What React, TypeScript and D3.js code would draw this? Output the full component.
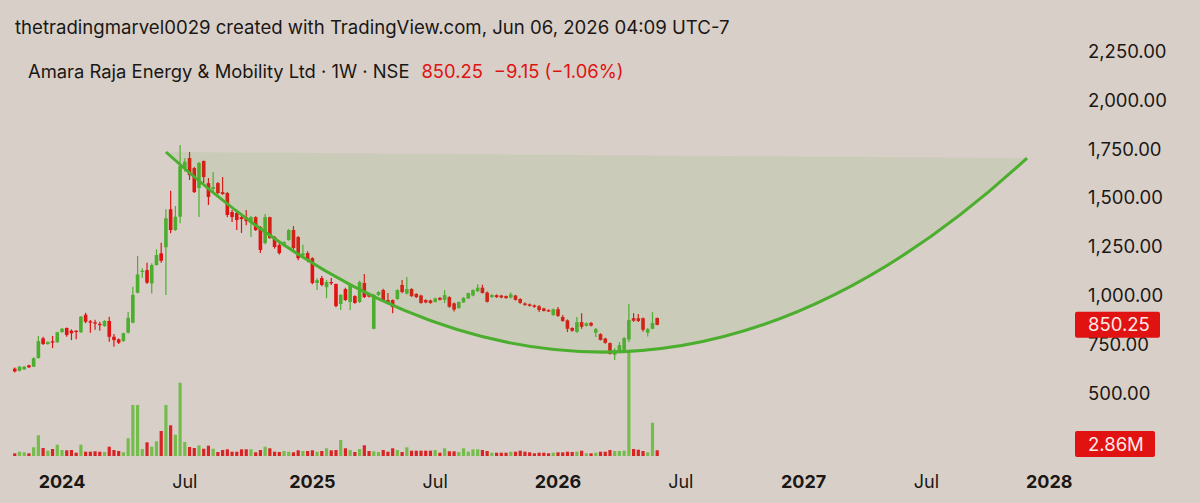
import { useEffect, useRef } from 'react';
import * as d3 from 'd3';

const WIDTH = 1200;
const HEIGHT = 503;

// Weekly candles, first bar starts this Monday
const firstWeek = '2023-10-23';

const opens = [
  626, 615, 622, 643, 636, 680, 781, 752, 766, 761, 813, 834, 820, 820, 812, 902, 868, 863, 855, 844,
  870, 789, 776, 767, 810, 861, 1014, 1123, 1130, 1062, 1156, 1216, 1247, 1441, 1335, 1403, 1651, 1703, 1652, 1550,
  1688, 1575, 1545, 1575, 1529, 1524, 1427, 1422, 1401, 1401, 1371, 1401, 1350, 1268, 1401, 1299, 1258, 1258, 1284, 1335,
  1299, 1205, 1217, 1191, 1064, 1089, 1043, 1069, 1059, 957, 1033, 967, 997, 967, 1064, 1003, 830, 1003, 1028, 977,
  977, 982, 1054, 1010, 1033, 1008, 1000, 977, 975, 967, 988, 978, 992, 960, 936, 965, 985, 1000, 1022, 1040,
  1015, 992, 1002, 1000, 997, 990, 1000, 982, 960, 955, 950, 945, 934, 925, 900, 930, 890, 873, 834, 814,
  864, 845, 860, 810, 803, 780, 757, 697, 718, 722, 775, 884, 884, 884, 810, 830, 885,
];
const highs = [
  632, 640, 640, 646, 684, 793, 789, 766, 793, 815, 834, 837, 827, 822, 895, 912, 875, 876, 866, 874,
  892, 803, 780, 810, 916, 1045, 1202, 1139, 1168, 1165, 1236, 1270, 1441, 1536, 1458, 1770, 1702, 1734, 1657, 1683,
  1690, 1601, 1632, 1580, 1606, 1530, 1437, 1430, 1410, 1437, 1407, 1405, 1355, 1417, 1403, 1304, 1275, 1278, 1340, 1355,
  1304, 1260, 1227, 1196, 1089, 1100, 1080, 1090, 1062, 1008, 1040, 1058, 1002, 1075, 1110, 1008, 1008, 1022, 1035, 1013,
  980, 1032, 1079, 1095, 1038, 1012, 1004, 981, 979, 990, 992, 1028, 996, 964, 970, 992, 1016, 1032, 1058, 1055,
  1020, 1006, 1006, 1004, 1000, 1015, 1004, 986, 964, 959, 954, 951, 938, 930, 934, 941, 900, 878, 838, 890,
  910, 862, 864, 834, 807, 784, 760, 730, 762, 788, 957, 910, 905, 888, 834, 915, 887,
];
const lows = [
  606, 612, 620, 630, 634, 678, 747, 748, 731, 758, 810, 789, 772, 776, 810, 858, 810, 825, 820, 840,
  764, 738, 752, 763, 806, 858, 1011, 1091, 1059, 1011, 1153, 1168, 1003, 1318, 1330, 1369, 1633, 1591, 1524, 1401,
  1575, 1463, 1524, 1518, 1515, 1400, 1376, 1335, 1320, 1360, 1299, 1330, 1217, 1262, 1290, 1240, 1210, 1250, 1280, 1235,
  1180, 1195, 1170, 1058, 1028, 1048, 987, 1054, 940, 926, 972, 926, 958, 962, 988, 990, 828, 998, 970, 958,
  910, 978, 1012, 1005, 993, 988, 958, 960, 958, 964, 974, 962, 938, 918, 932, 962, 982, 996, 1018, 1010,
  964, 988, 988, 986, 984, 985, 974, 958, 948, 944, 938, 916, 918, 916, 896, 890, 866, 813, 815, 808,
  830, 842, 842, 788, 770, 754, 698, 670, 711, 720, 762, 865, 865, 815, 790, 828, 848,
];
const closes = [
  612, 636, 636, 633, 679, 767, 752, 762, 762, 812, 830, 798, 807, 816, 892, 866, 864, 859, 851, 870,
  789, 772, 759, 807, 886, 1003, 1108, 1127, 1066, 1156, 1207, 1178, 1395, 1335, 1403, 1662, 1684, 1616, 1529, 1678,
  1606, 1504, 1555, 1524, 1519, 1412, 1401, 1386, 1391, 1380, 1401, 1335, 1233, 1401, 1294, 1248, 1217, 1273, 1335, 1243,
  1191, 1215, 1181, 1064, 1079, 1054, 1069, 1064, 946, 1003, 977, 1054, 962, 1069, 992, 995, 1003, 1018, 977, 962,
  941, 1028, 1018, 1033, 997, 992, 962, 965, 962, 985, 978, 1002, 943, 928, 967, 988, 1012, 1028, 1040, 1013,
  968, 1003, 992, 990, 987, 1006, 978, 962, 952, 947, 942, 926, 921, 920, 930, 896, 870, 830, 820, 864,
  840, 858, 846, 828, 773, 758, 702, 720, 746, 782, 875, 871, 870, 825, 828, 859.4, 850.25,
];
// Volume in millions of shares
const volumes = [
  1.35, 2.15, 1.85, 1.35, 4.35, 10.35, 4, 2.65, 3.5, 5.65, 3, 2.85, 3, 1.65, 5.65, 2.15, 2.15, 2.35, 2.15, 2,
  4.65, 3, 2.5, 1.85, 8.85, 25.5, 25.5, 3.5, 6.85, 4.65, 7.35, 12.5, 25.5, 15.35, 10.65, 36.65, 7, 4.5, 4, 5.35,
  3.65, 5.15, 3.65, 2, 3, 3.35, 2.15, 2.15, 3.35, 3.35, 3.35, 1.85, 3, 4.65, 3.85, 2.15, 2, 2.5, 2.15, 1.85,
  2.85, 2.5, 2.5, 2.85, 2.15, 2.5, 3.85, 2.85, 3, 8, 3.85, 3, 2, 3.5, 5.35, 2.5, 2.35, 2, 3, 2.15,
  3.85, 3, 2, 4.35, 2.65, 2.65, 2.65, 2.65, 2.65, 3, 1.65, 3.85, 2.35, 2.35, 2, 3.85, 2.15, 3.35, 3.35, 3,
  2.5, 1.65, 1.65, 1.65, 1.65, 2.15, 2.15, 2.65, 2.15, 1.85, 1.35, 1.65, 1.65, 1.35, 1.65, 1.85, 1.85, 2.15, 2, 2.15,
  2.65, 1.35, 1.35, 1.65, 2.15, 2.15, 3, 2.5, 2.5, 2.65, 52, 3.5, 3.15, 2.5, 1.85, 16.65, 2.86,
];

const priceTicks = [500, 750, 1000, 1250, 1500, 1750, 2000, 2250];
const timeTicks = ['2024-01-01', '2024-07-01', '2025-01-06', '2025-07-07', '2026-01-05', '2026-07-06', '2027-01-04', '2027-07-05', '2028-01-03'];
const timeLabels = ['2024', 'Jul', '2025', 'Jul', '2026', 'Jul', '2027', 'Jul', '2028'];

// Curve drawing: start, control, end (quadratic)
const curveDates = ['2024-06-03', '2026-03-13', '2027-12-01'];
const curvePrices = [1734, -297, 1703];

const headerText = 'thetradingmarvel0029 created with TradingView.com, Jun 06, 2026 04:09 UTC-7';
const symbolText = 'Amara Raja Energy & Mobility Ltd · 1W · NSE';
const lastPrice = 850.25;
const priceChange = -9.15;
const priceChangePct = -1.06;

const BG = '#d8d0c8';
const UP = '#4cae2e';
const DOWN = '#e01212';
const VOL_UP = '#74bd4c';
const VOL_DOWN = '#d82424';
const TEXT = '#1b1714';
const FONT = 'Inter, "Noto Sans", sans-serif';

const App = () => {
  const svgRef = useRef<SVGSVGElement>(null);

  useEffect(() => {
    if (!svgRef.current) return;
    const svg = d3.select(svgRef.current);
    svg.selectAll('*').remove();

    const start = new Date(firstWeek);
    const bars = opens.map((o, i) => ({
      date: d3.utcDay.offset(start, i * 7),
      open: o,
      high: highs[i],
      low: lows[i],
      close: closes[i],
      volume: volumes[i],
    }));

    const x = d3.scaleUtc()
      .domain([new Date('2024-01-01'), new Date('2026-06-01')])
      .range([62, 657.2]);
    const y = d3.scaleLinear().domain([500, 2250]).range([393.3, 51.1]);
    const yVol = d3.scaleLinear().domain([0, 60]).range([456, 336]);

    svg.append('rect').attr('width', WIDTH).attr('height', HEIGHT).attr('fill', BG);

    // Header
    svg.append('text')
      .attr('x', 15).attr('y', 33.5)
      .attr('font-family', FONT).attr('font-size', 18.6)
      .attr('fill', TEXT)
      .text(headerText);

    const legend = svg.append('text')
      .attr('x', 28).attr('y', 77.5)
      .attr('font-family', FONT).attr('font-size', 18.4)
      .attr('fill', TEXT);
    legend.append('tspan').text(symbolText);
    legend.append('tspan').attr('dx', 12).attr('fill', DOWN).text(lastPrice.toFixed(2));
    legend.append('tspan').attr('dx', 11).attr('fill', DOWN)
      .text(`${priceChange < 0 ? '\u2212' : '+'}${Math.abs(priceChange).toFixed(2)} (${priceChangePct < 0 ? '\u2212' : '+'}${Math.abs(priceChangePct).toFixed(2)}%)`);

    // Volume bars
    svg.append('g')
      .selectAll('rect')
      .data(bars)
      .join('rect')
      .attr('x', d => x(d.date) - 1.6)
      .attr('width', 3.2)
      .attr('y', d => yVol(d.volume))
      .attr('height', d => yVol(0) - yVol(d.volume))
      .attr('fill', d => (d.close >= d.open ? VOL_UP : VOL_DOWN));

    // Candles
    const candles = svg.append('g');
    candles.selectAll('line')
      .data(bars)
      .join('line')
      .attr('x1', d => x(d.date)).attr('x2', d => x(d.date))
      .attr('y1', d => y(d.high)).attr('y2', d => y(d.low))
      .attr('stroke', d => (d.close >= d.open ? UP : DOWN))
      .attr('stroke-width', 1.2);
    candles.selectAll('rect')
      .data(bars)
      .join('rect')
      .attr('x', d => x(d.date) - 1.8)
      .attr('width', 3.6)
      .attr('y', d => y(Math.max(d.open, d.close)))
      .attr('height', d => Math.max(1.3, Math.abs(y(d.open) - y(d.close))))
      .attr('fill', d => (d.close >= d.open ? UP : DOWN));

    // Cup curve with filled area against its chord
    const pts = curveDates.map((d, i) => [x(new Date(d)), y(curvePrices[i])]);
    const curve = d3.path();
    curve.moveTo(pts[0][0], pts[0][1]);
    curve.quadraticCurveTo(pts[1][0], pts[1][1], pts[2][0], pts[2][1]);
    svg.append('path')
      .attr('d', curve.toString() + 'Z')
      .attr('fill', 'rgb(110,170,75)')
      .attr('fill-opacity', 0.12);
    svg.append('path')
      .attr('d', curve.toString())
      .attr('fill', 'none')
      .attr('stroke', UP)
      .attr('stroke-width', 3)
      .attr('stroke-linecap', 'butt');

    // Price axis (labels only)
    svg.append('g')
      .selectAll('text')
      .data(priceTicks)
      .join('text')
      .attr('x', 1088)
      .attr('y', d => y(d))
      .attr('dy', '0.36em')
      .attr('font-family', FONT).attr('font-size', 18.5)
      .attr('fill', TEXT)
      .text(d => d3.format(',.2f')(d));

    // Last price tag
    const lastY = y(lastPrice);
    svg.append('rect')
      .attr('x', 1075).attr('y', lastY - 13)
      .attr('width', 85).attr('height', 26).attr('rx', 2)
      .attr('fill', DOWN);
    svg.append('text')
      .attr('x', 1088).attr('y', lastY).attr('dy', '0.36em')
      .attr('font-family', FONT).attr('font-size', 18.5)
      .attr('fill', '#fde9e6')
      .text(lastPrice.toFixed(2));

    // Last volume tag
    const lastVol = volumes[volumes.length - 1];
    const volY = Math.min(yVol(lastVol), 444);
    svg.append('rect')
      .attr('x', 1075).attr('y', volY - 13)
      .attr('width', 80).attr('height', 26).attr('rx', 2)
      .attr('fill', DOWN);
    svg.append('text')
      .attr('x', 1088).attr('y', volY).attr('dy', '0.36em')
      .attr('font-family', FONT).attr('font-size', 18.5)
      .attr('fill', '#fde9e6')
      .text(`${lastVol.toFixed(2)}M`);

    // Time axis
    svg.append('g')
      .selectAll('text')
      .data(timeTicks)
      .join('text')
      .attr('x', d => x(new Date(d)))
      .attr('y', 487.5)
      .attr('text-anchor', 'middle')
      .attr('font-family', FONT).attr('font-size', 18)
      .attr('font-weight', (_, i) => (/^\d{4}$/.test(timeLabels[i]) ? 700 : 400))
      .attr('fill', TEXT)
      .text((_, i) => timeLabels[i]);
  }, []);

  return (
    <svg
      ref={svgRef}
      width={WIDTH}
      height={HEIGHT}
      style={{ position: 'absolute', left: 0, top: 0, display: 'block' }}
    />
  );
};

export default App;
